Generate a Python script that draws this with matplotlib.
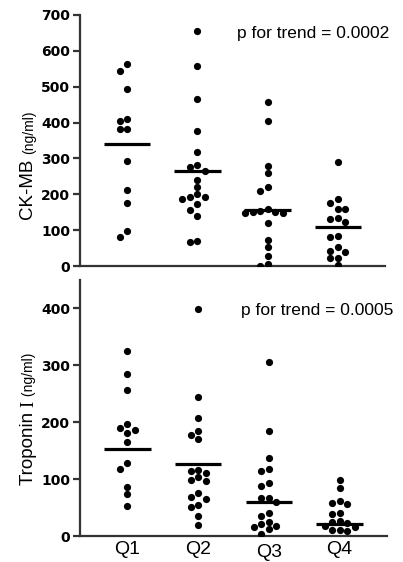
import numpy as np
import matplotlib
matplotlib.use('Agg')
import matplotlib.pyplot as plt

# data
groups = ['Q1', 'Q2', 'Q3', 'Q4']

ckmb_q1 = [562, 545, 493, 409, 404, 382, 382, 292, 211, 176, 98, 81]
ckmb_q2 = [656, 559, 465, 377, 317, 282, 277, 266, 239, 220, 201, 193, 192,
           187, 173, 156, 140, 70, 66]
ckmb_q3 = [456, 405, 279, 258, 221, 210, 158, 152, 150, 150, 148, 147, 119,
           73, 54, 28, 5, 0]
ckmb_q4 = [289, 187, 177, 159, 159, 135, 131, 122, 85, 80, 54, 43, 38, 23, 21, 3]
ckmb_means = [341, 266, 157, 108]

tni_q1 = [325, 285, 257, 196, 189, 186, 181, 166, 128, 118, 86, 74, 52]
tni_q2 = [399, 244, 207, 184, 178, 170, 116, 115, 110, 103, 99, 96, 76, 68,
          65, 55, 51, 35, 19]
tni_q3 = [306, 184, 137, 117, 115, 94, 88, 67, 67, 59, 41, 36, 25, 21, 18,
          16, 13, 3]
tni_q4 = [98, 84, 62, 58, 56, 41, 39, 26, 24, 22, 17, 16, 11, 10, 9]
tni_means = [153, 126, 59, 21]

W, H = 403, 562
fig = plt.figure(figsize=(W / 100, H / 100), dpi=100)

SANS = 'Liberation Sans'
SPINE = '#333333'


def px_axes(left, top, right, bottom):
    # axes rectangle given in pixel coordinates (top-left origin)
    return fig.add_axes([left / W, (H - bottom) / H, (right - left) / W, (bottom - top) / H])


def swarm(ax, xc, vals, slot_px=7.5, min_dy=6.8):
    # simple grid-based beeswarm, offsets computed in pixel space
    ypix = ax.transData.transform(np.column_stack([np.zeros(len(vals)), vals]))[:, 1]
    x0 = ax.transData.transform((0, 0))[0]
    x1 = ax.transData.transform((1, 0))[0]
    slot = slot_px / (x1 - x0)
    order = np.argsort(-np.asarray(vals))
    placed = {}
    offs = np.zeros(len(vals))
    for i in order:
        for k in [0, -1, 1, -2, 2, -3, 3]:
            ok = all(abs(ypix[i] - yp) >= min_dy for yp in placed.get(k, []))
            if ok:
                placed.setdefault(k, []).append(ypix[i])
                offs[i] = k * slot
                break
    return xc + offs


def style(ax, ymax, yticks):
    ax.set_xlim(-0.67, 3.67)
    ax.set_ylim(0, ymax)
    ax.set_yticks(yticks)
    for s in ['top', 'right']:
        ax.spines[s].set_visible(False)
    for s in ['left', 'bottom']:
        ax.spines[s].set_linewidth(1.6)
        ax.spines[s].set_color(SPINE)
    ax.tick_params(axis='y', length=5, width=1.6, color=SPINE, pad=2,
                   labelsize=10)
    for t in ax.get_yticklabels():
        t.set_fontweight('bold')
    ax.tick_params(axis='x', length=0)


def panel(ax, data, means):
    for i, vals in enumerate(data):
        xs = swarm(ax, i, vals)
        ax.scatter(xs, vals, s=27, color='black', linewidths=0, zorder=3)
        ax.plot([i - 0.33, i + 0.33], [means[i], means[i]], color='black',
                lw=2.3, solid_capstyle='butt', zorder=4)


def ylabel(pieces, x_px, y_px):
    # place rotated text pieces one after another along a common baseline
    r = fig.canvas.get_renderer()
    y = y_px
    for txt, size, fam in pieces:
        t = fig.text(x_px / W, (H - y) / H, txt, rotation=90, rotation_mode='anchor',
                     ha='left', va='baseline', fontsize=size, family=fam)
        bb = t.get_window_extent(renderer=r)
        y = H - bb.y1


# top panel: CK-MB
ax1 = px_axes(80, 15, 385, 266)
style(ax1, 700, range(0, 701, 100))
ax1.set_xticks(range(4))
ax1.set_xticklabels([])
panel(ax1, [ckmb_q1, ckmb_q2, ckmb_q3, ckmb_q4], ckmb_means)
ax1.text(237 / W, (H - 38) / H, 'p for trend = 0.0002', transform=fig.transFigure,
         fontsize=12.5, family=SANS, va='baseline')

# bottom panel: Troponin I
ax2 = px_axes(80, 280, 387, 536)
style(ax2, 450, range(0, 401, 100))
ax2.set_xticks(range(4))
ax2.set_xticklabels(groups, fontsize=14, family=SANS)
ax2.xaxis.get_major_ticks()[2].set_pad(6)
panel(ax2, [tni_q1, tni_q2, tni_q3, tni_q4], tni_means)
ax2.text(241 / W, (H - 315) / H, 'p for trend = 0.0005', transform=fig.transFigure,
         fontsize=12.5, family=SANS, va='baseline')

ylabel([('CK-MB ', 13.5, SANS), ('(ng/ml)', 10, SANS)], 33, 220)
ylabel([('Troponin ', 13.5, SANS), ('I', 13.5, 'Liberation Serif'),
        (' (ng/ml)', 10, SANS)], 33, 485)

plt.savefig('out.png', dpi=100)
